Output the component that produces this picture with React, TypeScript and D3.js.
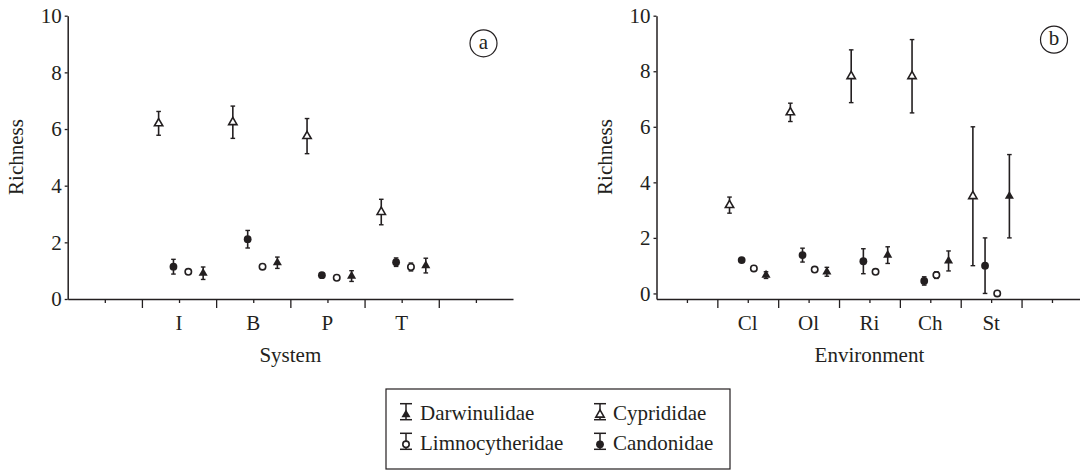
import { useEffect, useRef } from 'react'
import * as d3 from 'd3'

// categories
const systems = ['I', 'B', 'P', 'T']
const environments = ['Cl', 'Ol', 'Ri', 'Ch', 'St']
const yTicks = [0, 2, 4, 6, 8, 10]

// panel (a) - richness by system, mean and error
const cypA = [6.2, 6.24, 5.75, 3.07]
const cypAErr = [0.42, 0.57, 0.62, 0.45]
const canA = [1.14, 2.11, 0.84, 1.3]
const canAErr = [0.26, 0.31, 0, 0.15]
const limA = [0.96, 1.14, 0.75, 1.13]
const limAErr = [0, 0, 0, 0.14]
const darA = [0.91, 1.28, 0.81, 1.18]
const darAErr = [0.22, 0.2, 0.19, 0.26]

// panel (b) - richness by environment
const cypB = [3.18, 6.52, 7.82, 7.82, 3.5]
const cypBErr = [0.29, 0.33, 0.95, 1.32, 2.5]
const canB = [1.2, 1.38, 1.16, 0.45, 1.0]
const canBErr = [0, 0.25, 0.45, 0.15, 1.0]
const limB = [0.9, 0.86, 0.78, 0.66, 0]
const limBErr = [0, 0, 0, 0.12, 0]
const darB = [0.66, 0.78, 1.38, 1.17, 3.5]
const darBErr = [0.12, 0.16, 0.3, 0.36, 1.5]

type Kind = 'openTri' | 'dot' | 'ring' | 'tri'

const INK = '#231f20'
const FONT = "'Liberation Serif', 'Times New Roman', serif"

interface Series {
  kind: Kind
  values: number[]
  errors: number[]
}

function drawMarker(g: d3.Selection<SVGGElement, unknown, null, undefined>, kind: Kind, cx: number, cy: number) {
  if (kind === 'dot') {
    g.append('circle').attr('cx', cx).attr('cy', cy).attr('r', 3.9).attr('fill', INK)
  } else if (kind === 'ring') {
    g.append('circle').attr('cx', cx).attr('cy', cy).attr('r', 3.2)
      .attr('fill', '#fff').attr('stroke', INK).attr('stroke-width', 1.6)
  } else if (kind === 'tri') {
    g.append('path').attr('d', d3.symbol(d3.symbolTriangle, 36)())
      .attr('transform', `translate(${cx},${cy})`).attr('fill', INK)
  } else {
    g.append('path').attr('d', d3.symbol(d3.symbolTriangle, 30)())
      .attr('transform', `translate(${cx},${cy})`)
      .attr('fill', '#fff').attr('stroke', INK).attr('stroke-width', 1.6)
  }
}

function drawPanel(
  svg: d3.Selection<SVGSVGElement, unknown, null, undefined>,
  opts: {
    cats: string[]
    series: Series[]
    offsets: number[]
    xDomainMax: number
    xRange: [number, number]
    yDomainMin: number
    yRange: [number, number]
    title: string
    badge: string
    badgePos: [number, number]
  },
) {
  const x = d3.scaleLinear().domain([0, opts.xDomainMax]).range(opts.xRange)
  const y = d3.scaleLinear().domain([opts.yDomainMin, 10]).range(opts.yRange)
  const y0 = opts.yRange[0]
  const g = svg.append('g')

  // y axis
  const ya = g.append('g')
    .attr('transform', `translate(${opts.xRange[0]},0)`)
    .call(d3.axisLeft(y).tickValues(yTicks).tickSize(3).tickSizeOuter(0).tickPadding(3))
  ya.select('.domain').attr('stroke', INK).attr('stroke-width', 1.5)
  ya.selectAll('.tick line').attr('stroke', INK).attr('stroke-width', 1.3)
  ya.selectAll('.tick text').attr('fill', INK).style('font-family', FONT).style('font-size', '21px')

  // x axis: short ticks on odd values, long ones between categories
  const xa = g.append('g')
    .attr('transform', `translate(0,${y0})`)
    .call(d3.axisBottom(x).tickValues(d3.range(1, opts.xDomainMax)).tickSize(4).tickSizeOuter(0).tickFormat(() => ''))
  xa.select('.domain').attr('stroke', INK).attr('stroke-width', 1.5)
  xa.selectAll<SVGLineElement, number>('.tick line')
    .attr('stroke', INK).attr('stroke-width', 1.3)
    .attr('y2', (d) => (d % 2 === 0 ? 9 : 4))

  opts.cats.forEach((c, i) => {
    g.append('text')
      .attr('x', x(3 + i * 2)).attr('y', y0 + 31)
      .attr('text-anchor', 'middle').attr('fill', INK)
      .style('font-family', FONT).style('font-size', '21px')
      .text(c)
  })

  g.append('text')
    .attr('x', x(opts.xDomainMax / 2)).attr('y', y0 + 63)
    .attr('text-anchor', 'middle').attr('fill', INK)
    .style('font-family', FONT).style('font-size', '21px')
    .text(opts.title)

  g.append('text')
    .attr('transform', `translate(${opts.xRange[0] - 44.5},157) rotate(-90)`)
    .attr('text-anchor', 'middle').attr('fill', INK)
    .style('font-family', FONT).style('font-size', '21px')
    .text('Richness')

  // badge
  g.append('circle')
    .attr('cx', opts.badgePos[0]).attr('cy', opts.badgePos[1]).attr('r', 13.5)
    .attr('fill', 'none').attr('stroke', INK).attr('stroke-width', 1.2)
  g.append('text')
    .attr('x', opts.badgePos[0]).attr('y', opts.badgePos[1] + 5.5)
    .attr('text-anchor', 'middle').attr('fill', INK)
    .style('font-family', FONT).style('font-size', '21px')
    .text(opts.badge)

  // error bars + markers
  opts.series.forEach((s, si) => {
    s.values.forEach((v, i) => {
      const cx = x(3 + i * 2 + opts.offsets[si])
      const e = s.errors[i]
      if (e > 0) {
        const top = y(v + e)
        const bot = y(v - e)
        g.append('line').attr('x1', cx).attr('x2', cx).attr('y1', top).attr('y2', bot)
          .attr('stroke', INK).attr('stroke-width', 1.6)
        ;[top, bot].forEach((yy) => {
          g.append('line').attr('x1', cx - 2.3).attr('x2', cx + 2.3).attr('y1', yy).attr('y2', yy)
            .attr('stroke', INK).attr('stroke-width', 1.4)
        })
      }
      drawMarker(g, s.kind, cx, y(v))
    })
  })
}

const legendItems: { label: string; kind: Kind }[] = [
  { label: 'Darwinulidae', kind: 'tri' },
  { label: 'Cyprididae', kind: 'openTri' },
  { label: 'Limnocytheridae', kind: 'ring' },
  { label: 'Candonidae', kind: 'dot' },
]

export default function App() {
  const svgRef = useRef<SVGSVGElement>(null)

  useEffect(() => {
    if (!svgRef.current) return
    const svg = d3.select(svgRef.current)
    svg.selectAll('*').remove()

    drawPanel(svg, {
      cats: systems,
      series: [
        { kind: 'openTri', values: cypA, errors: cypAErr },
        { kind: 'dot', values: canA, errors: canAErr },
        { kind: 'ring', values: limA, errors: limAErr },
        { kind: 'tri', values: darA, errors: darAErr },
      ],
      offsets: [-0.55, -0.15, 0.25, 0.65],
      xDomainMax: 12,
      xRange: [67.7, 513],
      yDomainMin: 0,
      yRange: [299, 15.7],
      title: 'System',
      badge: 'a',
      badgePos: [483.5, 43.3],
    })

    drawPanel(svg, {
      cats: environments,
      series: [
        { kind: 'openTri', values: cypB, errors: cypBErr },
        { kind: 'dot', values: canB, errors: canBErr },
        { kind: 'ring', values: limB, errors: limBErr },
        { kind: 'tri', values: darB, errors: darBErr },
      ],
      offsets: [-0.6, -0.2, 0.2, 0.6],
      xDomainMax: 14,
      xRange: [656.5, 1082.4],
      yDomainMin: -0.2,
      yRange: [299, 15.7],
      title: 'Environment',
      badge: 'b',
      badgePos: [1054, 39.7],
    })

    // legend
    const lg = svg.append('g')
    lg.append('rect').attr('x', 386).attr('y', 389).attr('width', 344).attr('height', 80)
      .attr('fill', 'none').attr('stroke', INK).attr('stroke-width', 1.2)
    legendItems.forEach((it, i) => {
      const col = i % 2
      const row = Math.floor(i / 2)
      const sx = col === 0 ? 406 : 600
      const tx = col === 0 ? 420 : 613
      const cy = row === 0 ? 411.7 : 441.3
      lg.append('line').attr('x1', sx).attr('x2', sx).attr('y1', cy - 8).attr('y2', cy + 8)
        .attr('stroke', INK).attr('stroke-width', 1.5)
      ;[cy - 8, cy + 8].forEach((yy) => {
        lg.append('line').attr('x1', sx - 6).attr('x2', sx + 6).attr('y1', yy).attr('y2', yy)
          .attr('stroke', INK).attr('stroke-width', 1.5)
      })
      drawMarker(lg, it.kind, sx, cy + 3)
      lg.append('text').attr('x', tx).attr('y', cy + 8.3).attr('fill', INK)
        .style('font-family', FONT).style('font-size', '21px')
        .text(it.label)
    })
  }, [])

  return (
    <svg
      ref={svgRef}
      width={1080}
      height={471}
      style={{ position: 'absolute', top: 0, left: 0, background: '#fff' }}
    />
  )
}
